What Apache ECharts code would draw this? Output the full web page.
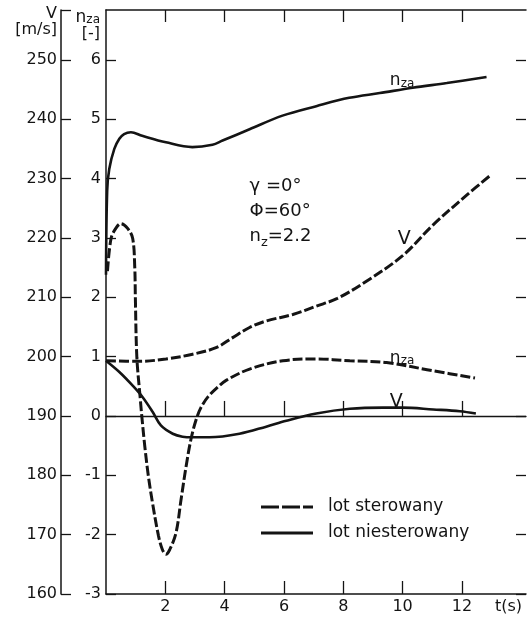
<!DOCTYPE html>
<html><head><meta charset="utf-8">
<script src="https://cdn.jsdelivr.net/npm/echarts@6/dist/echarts.min.js"></script>
<style>html,body{margin:0;padding:0;background:#fff}#c{width:527px;height:618px}</style>
</head><body><div id="c"></div>
<script>
// ---- data ----
const timeTicks = [2, 4, 6, 8, 10, 12];
const nTicks = [-3, -2, -1, 0, 1, 2, 3, 4, 5, 6];
const vTicks = [160, 170, 180, 190, 200, 210, 220, 230, 240, 250];
const legendNames = ['lot sterowany', 'lot niesterowany'];
const paramLines = ['γ =0°', 'Φ=60°', 'n', 'z', '=2.2'];

// lot sterowany (dashed)
const nzaSterowany = [[0.05,2.44],[0.17,2.99],[0.33,3.16],[0.5,3.24],[0.73,3.16],[0.9,2.99],[0.97,2.5],[0.99,1.99],[1.04,0.99],[1.15,0.32],[1.21,-0.02],[1.31,-0.52],[1.43,-1.02],[1.57,-1.47],[1.77,-2.02],[1.9,-2.25],[2.02,-2.33],[2.15,-2.25],[2.36,-1.97],[2.53,-1.41],[2.7,-0.85],[2.87,-0.38],[3.04,-0.06],[3.2,0.14],[3.45,0.33],[3.8,0.5],[4.05,0.6],[4.84,0.79],[5.96,0.93],[7.09,0.96],[8.22,0.93],[9.46,0.9],[11.03,0.76],[12.44,0.64]];
const vSterowany = [[0,199.3],[1.12,199.2],[2.02,199.6],[2.92,200.4],[3.71,201.5],[4.27,203.2],[4.84,204.9],[5.4,206.0],[6.3,207.1],[7.09,208.5],[7.8,209.8],[8.78,212.7],[10.0,217.0],[11.03,222.2],[12.16,227.2],[12.95,230.5]];

// lot niesterowany (solid)
const nzaNiesterowany = [[0,2.38],[0.04,3.8],[0.11,4.16],[0.28,4.5],[0.45,4.67],[0.61,4.75],[0.84,4.78],[1.22,4.72],[2.02,4.61],[2.91,4.53],[3.59,4.57],[3.93,4.64],[4.84,4.83],[5.95,5.06],[7.09,5.22],[8.2,5.36],[9.23,5.44],[10.34,5.53],[11.49,5.61],[12.83,5.71]];
const vNiesterowany = [[0,199.3],[0.45,197.4],[0.9,195.1],[1.23,193.2],[1.57,190.7],[1.85,188.4],[2.25,187.0],[2.58,186.5],[2.92,186.4],[3.49,186.4],[4.5,187.0],[5.4,188.2],[6.08,189.2],[7.09,190.4],[8.22,191.2],[9.34,191.4],[10.0,191.4],[11.03,191.1],[11.93,190.8],[12.47,190.4]];

// ---- styling ----
const INK = '#141414';
const FONT = "'DejaVu Sans', sans-serif";
const T_MAX = 14.16, N_MIN = -3, N_MAX = 6.84;
const V_MIN = 160, V_MAX = 258.4;

const isIn = (arr, v) => arr.some(x => Math.abs(x - v) < 1e-6);
const fmt = arr => v => isIn(arr, v) ? String(Math.round(v)) : '';
const axisLineStyle = { color: INK, width: 1.5 };
const tickStyle = { color: INK, width: 1.3 };
const labelBase = { color: INK, fontFamily: FONT, fontSize: 16 };
const subRich = {
  n: { fontSize: 17, fontFamily: FONT, color: INK, lineHeight: 20, verticalAlign: 'bottom' },
  s: { fontSize: 12, fontFamily: FONT, color: INK, lineHeight: 10, verticalAlign: 'bottom' },
  b: { fontSize: 16, fontFamily: FONT, color: INK, lineHeight: 16 },
  g: { fontSize: 18, fontFamily: FONT, color: INK, lineHeight: 25 },
  gs: { fontSize: 13, fontFamily: FONT, color: INK, lineHeight: 12, verticalAlign: 'bottom' },
  v: { fontSize: 19, fontFamily: FONT, color: INK, lineHeight: 22 }
};

function annot(coord, text) {
  return {
    symbol: 'circle', symbolSize: 0, silent: true, animation: false,
    label: { show: true, position: 'right', distance: 0, rich: subRich, color: INK },
    data: [{ coord: coord, label: { formatter: text } }]
  };
}

const SMOOTH = 0.35;
const chart = echarts.init(document.getElementById('c'), null, { renderer: 'canvas' });
chart.setOption({
  animation: false,
  backgroundColor: '#fff',
  color: [INK],
  textStyle: { fontFamily: FONT, color: INK },
  grid: { left: 106, right: 1, top: 10, bottom: 24, containLabel: false, outerBoundsMode: 'none' },
  legend: {
    orient: 'vertical', left: 256, top: 492, itemWidth: 52, itemHeight: 3, itemGap: 6,
    selectedMode: false,
    itemStyle: { color: INK },
    data: [
      { name: legendNames[0], icon: 'path://M0,0h18v3h-18z M21,0h18v3h-18z M42,0h10v3h-10z' },
      { name: legendNames[1], icon: 'path://M0,0h52v3h-52z' }
    ],
    textStyle: { fontSize: 17, color: INK, fontFamily: FONT, lineHeight: 20, padding: [0, 0, 0, 10] }
  },
  xAxis: [
    {
      type: 'value', position: 'bottom', min: 0, max: T_MAX, interval: 2,
      axisLine: { show: true, onZero: false, lineStyle: axisLineStyle },
      axisTick: { show: true, inside: true, length: 13, lineStyle: tickStyle, customValues: timeTicks },
      axisLabel: Object.assign({ margin: 5, formatter: fmt(timeTicks), customValues: timeTicks }, labelBase),
      splitLine: { show: false },
      name: 't(s)', nameLocation: 'end', nameGap: -31,
      nameTextStyle: { fontSize: 16, fontFamily: FONT, color: INK, align: 'left', verticalAlign: 'top', padding: [5, 0, 0, 0] }
    },
    {
      type: 'value', position: 'top', min: 0, max: T_MAX, interval: 2,
      axisLine: { show: true, onZero: false, lineStyle: axisLineStyle },
      axisTick: { show: true, inside: true, length: 12, lineStyle: tickStyle, customValues: timeTicks },
      axisLabel: { show: false }, splitLine: { show: false }
    },
    {
      type: 'value', position: 'bottom', min: 0, max: T_MAX, interval: 2,
      axisLine: { show: true, onZero: true, onZeroAxisIndex: 0, lineStyle: { color: INK, width: 1.3 } },
      axisTick: { show: true, inside: true, length: 15, lineStyle: tickStyle, customValues: timeTicks },
      axisLabel: { show: false }, splitLine: { show: false }
    }
  ],
  yAxis: [
    {
      type: 'value', position: 'left', offset: 0, min: N_MIN, max: N_MAX, interval: 1,
      axisLine: { show: true, onZero: false, lineStyle: axisLineStyle },
      axisTick: { show: true, inside: true, length: 10, lineStyle: tickStyle, customValues: nTicks },
      axisLabel: Object.assign({ margin: 5, formatter: fmt(nTicks), customValues: nTicks }, labelBase),
      splitLine: { show: false },
      name: '{n|n}{s|za}\n{b|[-]}', nameLocation: 'end', nameGap: 4,
      nameTextStyle: { align: 'right', verticalAlign: 'top', padding: [0, 6, 0, 0], rich: subRich }
    },
    {
      type: 'value', position: 'left', offset: 45, min: V_MIN, max: V_MAX, interval: 10,
      axisLine: { show: true, onZero: false, lineStyle: axisLineStyle },
      axisTick: { show: true, inside: true, length: 10, lineStyle: tickStyle, customValues: vTicks.concat([V_MAX]) },
      axisLabel: Object.assign({ margin: 4, formatter: fmt(vTicks), customValues: vTicks }, labelBase),
      splitLine: { show: false },
      name: '{b|V}\n{b|[m/s]}', nameLocation: 'end', nameGap: 4,
      nameTextStyle: { align: 'right', verticalAlign: 'top', padding: [0, 4, 0, 0], rich: subRich }
    },
    {
      type: 'value', position: 'right', min: N_MIN, max: N_MAX, interval: 1,
      axisLine: { show: false, onZero: false },
      axisTick: { show: true, inside: true, length: 10, lineStyle: tickStyle, customValues: nTicks },
      axisLabel: { show: false }, splitLine: { show: false }
    }
  ],
  series: [
    {
      name: legendNames[0], type: 'line', xAxisIndex: 0, yAxisIndex: 0, data: nzaSterowany,
      symbol: 'none', smooth: SMOOTH, itemStyle: { color: INK },
      lineStyle: { color: INK, width: 3, type: [10, 3], cap: 'butt' },
      markPoint: annot([9.57, 0.99], '{n|n}{s|za}')
    },
    {
      name: legendNames[0], type: 'line', xAxisIndex: 0, yAxisIndex: 1, data: vSterowany,
      symbol: 'none', smooth: SMOOTH, itemStyle: { color: INK },
      lineStyle: { color: INK, width: 3, type: [10, 3], cap: 'butt' },
      markPoint: annot([9.84, 219.8], '{v|V}')
    },
    {
      name: legendNames[1], type: 'line', xAxisIndex: 0, yAxisIndex: 0, data: nzaNiesterowany,
      symbol: 'none', smooth: SMOOTH, itemStyle: { color: INK },
      lineStyle: { color: INK, width: 2.6 },
      markPoint: {
        symbol: 'circle', symbolSize: 0, silent: true, animation: false,
        label: { show: true, position: 'right', distance: 0, rich: subRich, color: INK },
        data: [
          { coord: [9.57, 5.67], label: { formatter: '{n|n}{s|za}' } },
          { coord: [4.84, 3.45], label: { formatter: '{g|' + paramLines[0] + '}\n{g|' + paramLines[1] + '}\n{g|' + paramLines[2] + '}{gs|' + paramLines[3] + '}{g|' + paramLines[4] + '}' } }
        ]
      }
    },
    {
      name: legendNames[1], type: 'line', xAxisIndex: 0, yAxisIndex: 1, data: vNiesterowany,
      symbol: 'none', smooth: SMOOTH, itemStyle: { color: INK },
      lineStyle: { color: INK, width: 2.6 },
      markPoint: annot([9.57, 192.4], '{v|V}')
    }
  ]
});
</script>
</body></html>
